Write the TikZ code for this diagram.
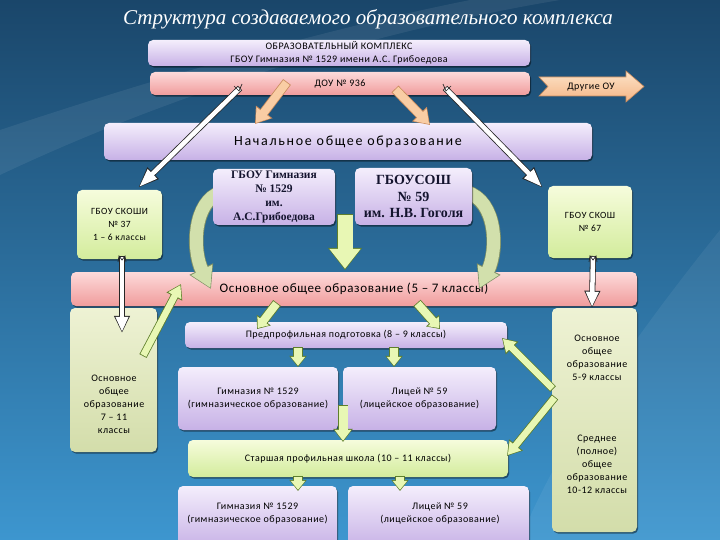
\documentclass[tikz,border=0pt]{standalone}
\usepackage{fontspec}
\setmainfont{Carlito}[LetterSpace=5]
\newfontfamily\serifbf{Liberation Serif}
\newfontfamily\titlefont{Liberation Serif}
\newfontfamily\spacedfont{Carlito}[LetterSpace=12]
\usetikzlibrary{arrows.meta,shadows,calc}
\definecolor{lavT}{HTML}{F4EEFC}
\definecolor{lavB}{HTML}{C7B1E6}
\definecolor{pinkT}{HTML}{FDDADA}
\definecolor{pinkB}{HTML}{F09C9C}
\definecolor{grnT}{HTML}{F6FCDC}
\definecolor{grnB}{HTML}{D3EC9C}
\definecolor{tallT}{HTML}{EEF2D4}
\definecolor{tallB}{HTML}{D3DDAA}
\definecolor{peach}{HTML}{F9CDA4}
\definecolor{peachT}{HTML}{FCE3C8}
\definecolor{peachB}{HTML}{F5B585}
\definecolor{peachD}{HTML}{C98B5C}
\definecolor{garr}{HTML}{E8F7B4}
\definecolor{garrD}{HTML}{5F7F2C}
\definecolor{gcurve}{HTML}{D2E0AC}
\definecolor{gcurveD}{HTML}{7F9166}
\definecolor{bgT}{HTML}{1A466A}
\definecolor{bgM}{HTML}{2B76AB}
\definecolor{bgB}{HTML}{3D96CF}
\definecolor{navy}{HTML}{14142E}
\newcommand\blkpre[1]{\tikzset{preaction={#1}}}
\tikzset{
  blk/.code args={#1/#2/#3/#4/#5}{%
    \pgfmathsetlengthmacro\blkA{#1+1.6pt}%
    \pgfmathsetlengthmacro\blkB{#2+2.8pt}%
    \pgfmathsetlengthmacro\blkC{#3+2.2pt}%
    \edef\blkopts{draw=#5, line width=\blkA, shorten >=0pt, shorten <=0pt, -{Triangle[length=\blkC,width=\blkB]}}%
    \tikzset{draw=#4, line width=#1, shorten >=1.2pt, shorten <=0.8pt, -{Triangle[length=#3,width=#2]}}%
    \expandafter\blkpre\expandafter{\blkopts}%
  },
  box/.style={rounded corners=5pt, inner sep=0pt, align=center, text=black,
    font=\fontsize{10}{13}\selectfont,
    drop shadow={shadow xshift=1.2pt, shadow yshift=-1.6pt, fill=black, opacity=0.45}},
  lav/.style={box, top color=lavT, bottom color=lavB},
  pnk/.style={box, top color=pinkT, bottom color=pinkB},
  grn/.style={box, top color=grnT, bottom color=grnB},
  tall/.style={box, top color=tallT, bottom color=tallB},
  txt/.style={align=center, inner sep=0pt, text=black, font=\fontsize{10}{13}\selectfont},
  whitearr/.style={blk=4.5pt/12pt/19pt/white/black!85},
  whitedown/.style={blk=4.5pt/12pt/15pt/white/black!85},
  peacharr/.style={blk=8pt/17pt/13pt/peach/peachD},
  bigarr/.style={blk=15pt/30pt/20pt/garr/garrD},
  curvearr/.style={blk=13pt/22pt/20pt/gcurve/gcurveD},
  smallarr/.style={blk=8pt/14pt/9pt/garr/garrD},
  midarr/.style={blk=9pt/16pt/11pt/garr/garrD},
  longarr/.style={blk=6.5pt/14pt/12pt/garr/garrD},
  tailmark/.style={draw=black!85, line width=0.7pt}
}
\begin{document}
\begin{tikzpicture}[x=1pt,y=-1pt]
\useasboundingbox (0,0) rectangle (720,540);
% background
\shade[top color=bgT, middle color=bgM, bottom color=bgB] (0,0) rectangle (720,540);
\fill[white, opacity=0.07] (0,175) .. controls (180,90) and (380,30) .. (560,0) -- (470,0) .. controls (320,30) and (150,80) .. (0,130) -- cycle;
\fill[white, opacity=0.06] (720,230) .. controls (640,330) and (560,440) .. (520,540) -- (720,540) -- cycle;
% title
\node[text=white, inner sep=0pt, font=\titlefont\itshape\fontsize{21}{24}\selectfont] (title) at (368,19) {Структура создаваемого образовательного комплекса};
% top boxes
\node[lav, minimum width=382pt, minimum height=26pt, font=\fontsize{10}{13}\selectfont] (kompl) at (339,53) {ОБРАЗОВАТЕЛЬНЫЙ КОМПЛЕКС\\ГБОУ Гимназия № 1529 имени А.С. Грибоедова};
\node[pnk, minimum width=380pt, minimum height=23pt] (dou) at (340,83.5) {ДОУ № 936};
\path[draw=peachD, line width=0.6pt, top color=peachT, bottom color=peachB]
  (539,77) -- (626,77) -- (626,71) -- (644,86.5) -- (626,102) -- (626,96) -- (539,96) -- (548,86.5) -- cycle;
\node[inner sep=0pt, font=\fontsize{10}{12}\selectfont] (drugie) at (591,87) {Другие ОУ};
\node[lav, minimum width=488pt, minimum height=37pt, font=\spacedfont\fontsize{14}{16}\selectfont] (nach) at (348,141.5) {Начальное общее образование};
% white and peach arrows from DOU
\coordinate (wls) at (240,88); \coordinate (wle) at (138,188);
\coordinate (wrs) at (445,88); \coordinate (wre) at (543,188);
\draw[whitearr] (wls) -- (wle);
\draw[whitearr] (wrs) -- (wre);
\draw[tailmark] ($(wls)+(-6,-2)$) -- ($(wls)+(-1,3)$) -- ($(wls)+(2,-4)$);
\draw[tailmark] ($(wrs)+(6,-2)$) -- ($(wrs)+(1,3)$) -- ($(wrs)+(-2,-4)$);
\coordinate (pls) at (287,82); \coordinate (ple) at (255,124);
\coordinate (prs) at (395,89); \coordinate (pre) at (430,125);
\draw[peacharr] (pls) -- (ple);
\draw[peacharr] (prs) -- (pre);
% level 2
\node[pnk, minimum width=566pt, minimum height=34pt, font=\fontsize{13}{15}\selectfont] (osn) at (354,289) {Основное общее образование (5 – 7 классы)};
\node[grn, minimum width=85pt, minimum height=69pt, font=\fontsize{9.5}{13}\selectfont] (skoshi) at (119.5,224.5) {ГБОУ СКОШИ\\№ 37\\1 – 6 классы};
\node[grn, minimum width=84pt, minimum height=72pt, font=\fontsize{9.5}{13}\selectfont] (skosh) at (590,222) {ГБОУ СКОШ\\№ 67};
% curved arrows
\coordinate (cls) at (222,192); \coordinate (cle) at (211,289);
\coordinate (crs) at (466,192); \coordinate (cre) at (479,289);
\draw[curvearr] (cls) .. controls (193,201) and (192,250) .. (cle);
\draw[curvearr] (crs) .. controls (497,201) and (498,250) .. (cre);
\coordinate (mds) at (345,214); \coordinate (mde) at (345,270);
\draw[bigarr] (mds) -- (mde);
\node[lav, minimum width=122pt, minimum height=56pt, text=navy, font=\serifbf\bfseries\fontsize{11.5}{14.2}\selectfont] (gim) at (274,197) {ГБОУ Гимназия\\№ 1529\\им.\\А.С.Грибоедова};
\node[lav, minimum width=117pt, minimum height=57pt, text=navy, font=\serifbf\bfseries\fontsize{14}{16.5}\selectfont] (sosh) at (413.5,196.5) {ГБОУСОШ\\№ 59\\им. Н.В. Гоголя};
% tall side boxes
\node[tall, minimum width=87pt, minimum height=144pt] (ltall) at (113.5,380) {};
\node[txt] (ltxt) at (114,404) {Основное\\общее\\образование\\7 – 11\\классы};
\node[tall, minimum width=85pt, minimum height=224pt] (rtall) at (594.5,420) {};
\node[txt] (rtxt1) at (597,358) {Основное\\общее\\образование\\5-9 классы};
\node[txt] (rtxt2) at (597,464) {Среднее\\(полное)\\общее\\образование\\10-12 классы};
\coordinate (wdls) at (122,256); \coordinate (wdle) at (122,333);
\coordinate (wdrs) at (593,256); \coordinate (wdre) at (592,308);
\draw[whitedown] (wdls) -- (wdle);
\draw[whitedown] (wdrs) -- (wdre);
\draw[tailmark] ($(wdls)+(-4,6)$) -- ($(wdls)+(-3,0)$) -- ($(wdls)+(0,4)$) -- ($(wdls)+(3,0)$) -- ($(wdls)+(4,6)$);
\draw[tailmark] ($(wdrs)+(-4,6)$) -- ($(wdrs)+(-3,0)$) -- ($(wdrs)+(0,4)$) -- ($(wdrs)+(3,0)$) -- ($(wdrs)+(4,6)$);
% middle column
\node[lav, minimum width=322pt, minimum height=26pt] (pred) at (346,335) {Предпрофильная подготовка (8 – 9 классы)};
\node[lav, minimum width=160pt, minimum height=63pt] (gim2) at (258,398.5) {Гимназия № 1529\\(гимназическое образование)};
\node[lav, minimum width=153pt, minimum height=63pt] (lic2) at (419.5,398.5) {Лицей № 59\\(лицейское образование)};
\node[grn, minimum width=320pt, minimum height=37pt] (star) at (348,458.5) {Старшая профильная школа (10 – 11 классы)};
\node[lav, minimum width=159pt, minimum height=62pt] (gim3) at (257.5,517) {};
\node[txt] (gim3t) at (257.5,513.5) {Гимназия № 1529\\(гимназическое образование)};
\node[lav, minimum width=181pt, minimum height=62pt] (lic3) at (438.5,517) {};
\node[txt] (lic3t) at (440,513.5) {Лицей № 59\\(лицейское образование)};
% green arrows
\coordinate (a1s) at (277,303); \coordinate (a1e) at (257,329);
\coordinate (a2s) at (417,303); \coordinate (a2e) at (440,329);
\draw[smallarr] (a1s) -- (a1e);
\draw[smallarr] (a2s) -- (a2e);
\coordinate (a3s) at (298,347); \coordinate (a3e) at (298,367);
\coordinate (a4s) at (394,347); \coordinate (a4e) at (394,367);
\draw[smallarr] (a3s) -- (a3e);
\draw[smallarr] (a4s) -- (a4e);
\coordinate (a5s) at (343,405); \coordinate (a5e) at (343,442);
\draw[midarr] (a5s) -- (a5e);
\coordinate (a6s) at (298,476); \coordinate (a6e) at (298,491);
\coordinate (a7s) at (400,476); \coordinate (a7e) at (400,491);
\draw[smallarr] (a6s) -- (a6e);
\draw[smallarr] (a7s) -- (a7e);
\coordinate (a8s) at (143,356); \coordinate (a8e) at (181,284);
\draw[longarr] (a8s) -- (a8e);
\coordinate (a9s) at (553,389); \coordinate (a9e) at (502,338);
\draw[longarr] (a9s) -- (a9e);
\coordinate (a10s) at (555,397); \coordinate (a10e) at (507,456);
\draw[longarr] (a10s) -- (a10e);
\end{tikzpicture}
\end{document}
